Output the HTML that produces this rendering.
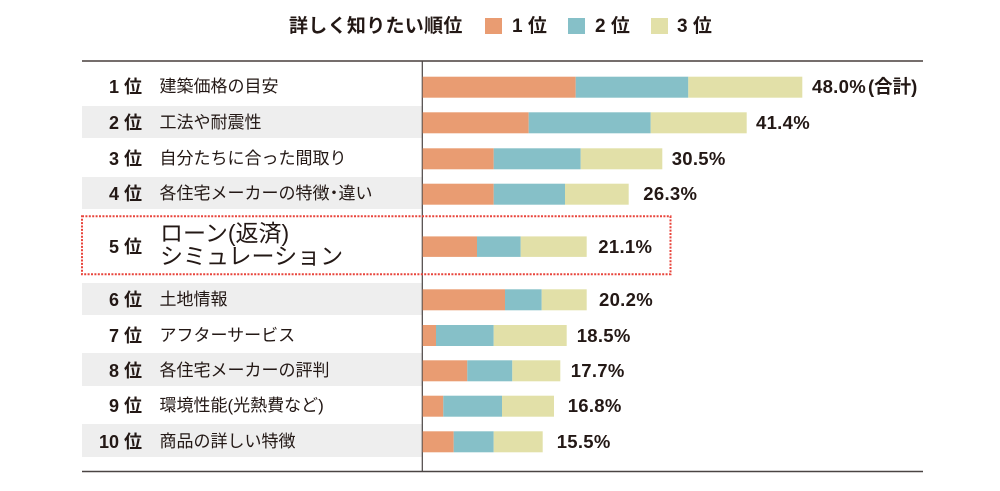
<!DOCTYPE html>
<html><head><meta charset="utf-8">
<style>
html,body{margin:0;padding:0;background:#fff;}
body{width:1000px;height:491px;position:relative;overflow:hidden;font-family:"Liberation Sans","Noto Sans CJK JP",sans-serif;color:#231815;}
.t{position:absolute;white-space:nowrap;}
.rk{position:absolute;right:858px;width:60px;text-align:right;font-weight:bold;font-size:18px;height:24px;line-height:24px;white-space:nowrap;}
.lb{position:absolute;left:159.5px;font-size:17px;height:24px;line-height:24px;white-space:nowrap;}
.pc{position:absolute;font-weight:bold;font-size:18.5px;letter-spacing:0.3px;height:24px;line-height:24px;white-space:nowrap;}
.gray{position:absolute;left:82px;width:340px;background:#eeeeee;}
</style></head><body>

<!-- legend -->
<div class="t" style="left:289px;top:14px;font-size:19px;font-weight:bold;line-height:26px;letter-spacing:0.3px;">詳しく知りたい順位</div>
<div style="position:absolute;left:485px;top:18px;width:17px;height:16px;background:#E99C72;"></div>
<div class="t" style="left:512px;top:14px;font-size:19px;font-weight:bold;line-height:26px;">1 位</div>
<div style="position:absolute;left:568px;top:18px;width:17px;height:16px;background:#86C0C8;"></div>
<div class="t" style="left:595px;top:14px;font-size:19px;font-weight:bold;line-height:26px;">2 位</div>
<div style="position:absolute;left:651px;top:18px;width:17px;height:16px;background:#E2E0A8;"></div>
<div class="t" style="left:677px;top:14px;font-size:19px;font-weight:bold;line-height:26px;">3 位</div>

<!-- gray rows -->
<div class="gray" style="top:105.7px;height:32.6px;"></div>
<div class="gray" style="top:176.7px;height:32.3px;"></div>
<div class="gray" style="top:282.7px;height:32.3px;"></div>
<div class="gray" style="top:353.3px;height:32.7px;"></div>
<div class="gray" style="top:424.3px;height:32.7px;"></div>

<svg width="1000" height="491" style="position:absolute;left:0;top:0;">
  <line x1="82" y1="61" x2="923" y2="61" stroke="#231815" stroke-width="1.3"/>
  <line x1="82" y1="471.5" x2="923" y2="471.5" stroke="#4a4443" stroke-width="1.5"/>
  <line x1="422.3" y1="61" x2="422.3" y2="471" stroke="#4a4443" stroke-width="1.2"/>
  <g>
    <rect x="422.7" y="76.7" width="153" height="21" fill="#E99C72"/><rect x="575.7" y="76.7" width="112.6" height="21" fill="#86C0C8"/><rect x="688.3" y="76.7" width="114" height="21" fill="#E2E0A8"/>
    <rect x="422.7" y="112.3" width="106" height="21" fill="#E99C72"/><rect x="528.7" y="112.3" width="122" height="21" fill="#86C0C8"/><rect x="650.7" y="112.3" width="96" height="21" fill="#E2E0A8"/>
    <rect x="422.7" y="148.3" width="71" height="21" fill="#E99C72"/><rect x="493.7" y="148.3" width="87" height="21" fill="#86C0C8"/><rect x="580.7" y="148.3" width="81.6" height="21" fill="#E2E0A8"/>
    <rect x="422.7" y="183.7" width="71" height="21" fill="#E99C72"/><rect x="493.7" y="183.7" width="71.3" height="21" fill="#86C0C8"/><rect x="565" y="183.7" width="63.7" height="21" fill="#E2E0A8"/>
    <rect x="422.7" y="236.4" width="54.3" height="20.5" fill="#E99C72"/><rect x="477" y="236.4" width="43.7" height="20.5" fill="#86C0C8"/><rect x="520.7" y="236.4" width="66" height="20.5" fill="#E2E0A8"/>
    <rect x="422.7" y="289.3" width="82.3" height="21" fill="#E99C72"/><rect x="505" y="289.3" width="36.7" height="21" fill="#86C0C8"/><rect x="541.7" y="289.3" width="45" height="21" fill="#E2E0A8"/>
    <rect x="422.7" y="325" width="13.3" height="21" fill="#E99C72"/><rect x="436" y="325" width="57.7" height="21" fill="#86C0C8"/><rect x="493.7" y="325" width="73" height="21" fill="#E2E0A8"/>
    <rect x="422.7" y="360.3" width="44.6" height="21" fill="#E99C72"/><rect x="467.3" y="360.3" width="45" height="21" fill="#86C0C8"/><rect x="512.3" y="360.3" width="48" height="21" fill="#E2E0A8"/>
    <rect x="422.7" y="395.7" width="20.6" height="21" fill="#E99C72"/><rect x="443.3" y="395.7" width="58.7" height="21" fill="#86C0C8"/><rect x="502" y="395.7" width="52" height="21" fill="#E2E0A8"/>
    <rect x="422.7" y="431.3" width="31" height="21" fill="#E99C72"/><rect x="453.7" y="431.3" width="40" height="21" fill="#86C0C8"/><rect x="493.7" y="431.3" width="49" height="21" fill="#E2E0A8"/>
  </g>
  <rect x="82" y="216.3" width="588.5" height="58" fill="none" stroke="#E8453C" stroke-width="2" stroke-dasharray="2 1.4"/>
</svg>

<!-- rank labels -->
<div class="rk" style="top:75px;">1 位</div>
<div class="rk" style="top:110.8px;">2 位</div>
<div class="rk" style="top:146.8px;">3 位</div>
<div class="rk" style="top:182.2px;">4 位</div>
<div class="rk" style="top:234.7px;">5 位</div>
<div class="rk" style="top:287.8px;">6 位</div>
<div class="rk" style="top:323.5px;">7 位</div>
<div class="rk" style="top:358.8px;">8 位</div>
<div class="rk" style="top:394.2px;">9 位</div>
<div class="rk" style="top:429.8px;">10 位</div>

<!-- item labels -->
<div class="lb" style="top:75px;">建築価格の目安</div>
<div class="lb" style="top:110.8px;">工法や耐震性</div>
<div class="lb" style="top:146.8px;">自分たちに合った間取り</div>
<div class="lb" style="top:182.2px;">各住宅メーカーの特徴<span style="margin:0 -4px;">・</span>違い</div>
<div class="t" style="left:160px;top:222px;font-size:23px;line-height:23px;">ローン(返済)<br>シミュレーション</div>
<div class="lb" style="top:287.8px;">土地情報</div>
<div class="lb" style="top:323.5px;">アフターサービス</div>
<div class="lb" style="top:358.8px;">各住宅メーカーの評判</div>
<div class="lb" style="top:394.2px;">環境性能(光熱費など)</div>
<div class="lb" style="top:429.8px;">商品の詳しい特徴</div>

<!-- percentages -->
<div class="pc" style="left:812px;top:75px;">48.0%<span style="letter-spacing:0;margin-left:2px;">(合計)</span></div>
<div class="pc" style="left:756px;top:110.8px;">41.4%</div>
<div class="pc" style="left:671.7px;top:146.8px;">30.5%</div>
<div class="pc" style="left:643.3px;top:182.2px;">26.3%</div>
<div class="pc" style="left:598.3px;top:234.7px;">21.1%</div>
<div class="pc" style="left:599px;top:287.8px;">20.2%</div>
<div class="pc" style="left:576.7px;top:323.5px;">18.5%</div>
<div class="pc" style="left:570.7px;top:358.8px;">17.7%</div>
<div class="pc" style="left:567.7px;top:394.2px;">16.8%</div>
<div class="pc" style="left:556.7px;top:429.8px;">15.5%</div>

</body></html>
